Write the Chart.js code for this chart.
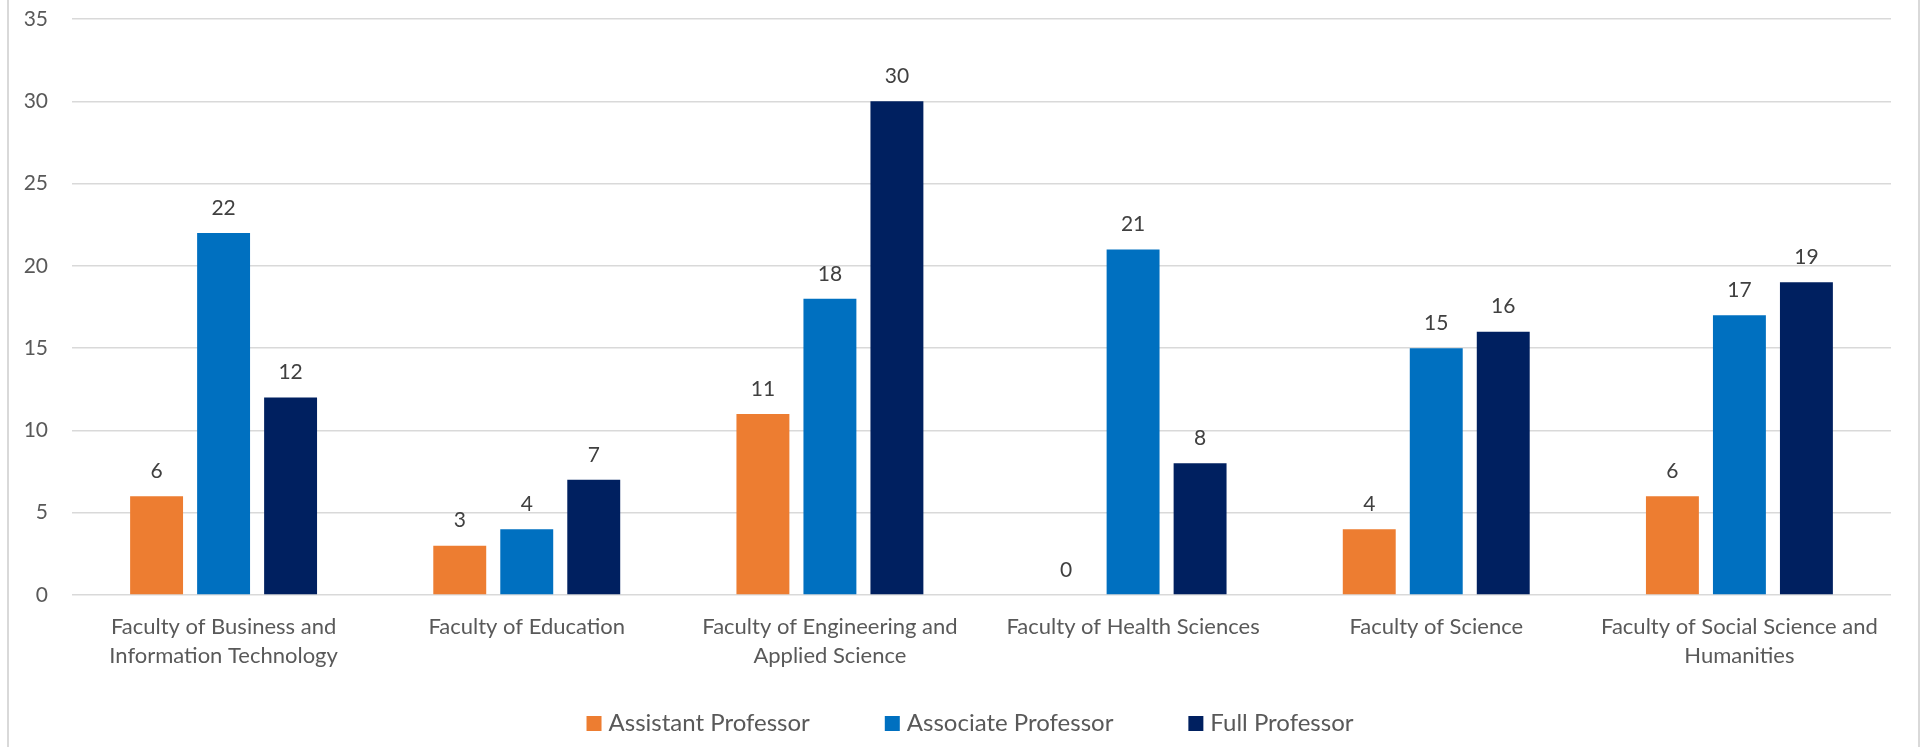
<!DOCTYPE html>
<html>
<head>
<meta charset="utf-8">
<title>Faculty by academic rank</title>
<script src="https://cdn.jsdelivr.net/npm/chart.js@4.4.1/dist/chart.umd.min.js"></script>
<style>
  body { margin: 0; background: #fff; }
  #chartBox { width: 1923px; height: 747px; }
</style>
</head>
<body>
<div id="chartBox"><canvas id="rankChart"></canvas></div>
<script>
// Categories (multi-line labels like the original)
const faculties = [
    ['Faculty of Business and', 'Information Technology'],
    'Faculty of Education',
    ['Faculty of Engineering and', 'Applied Science'],
    'Faculty of Health Sciences',
    'Faculty of Science',
    ['Faculty of Social Science and', 'Humanities']
];

// Series values
const assistantProfessor = [6, 3, 11, 0, 4, 6];
const associateProfessor = [22, 4, 18, 21, 15, 17];
const fullProfessor = [12, 7, 30, 8, 16, 19];

// Y axis range
const yMax = 35;
const yStep = 5;

const textColor = '#595959';
const gridColor = '#d9d9d9';

// Value labels on top of each bar
const barValues = {
    id: 'barValues',
    afterDatasetsDraw(chart) {
        const ctx = chart.ctx;
        ctx.save();
        ctx.font = '21px Lato';
        ctx.fillStyle = '#404040';
        ctx.textAlign = 'center';
        ctx.textBaseline = 'middle';
        chart.data.datasets.forEach((ds, i) => {
            chart.getDatasetMeta(i).data.forEach((bar, j) => {
                ctx.fillText(ds.data[j], bar.x, bar.y - 25);
            });
        });
        ctx.restore();
    }
};

// Light frame on left and right edges
const frame = {
    id: 'frame',
    beforeDraw(chart) {
        const ctx = chart.ctx;
        ctx.save();
        ctx.fillStyle = gridColor;
        ctx.fillRect(7, 0, 2, chart.height);
        ctx.fillRect(1918, 0, 2, chart.height);
        ctx.restore();
    }
};

// Legend at the bottom: square swatch, small gap, wide spacing between items
const bottomLegend = {
    id: 'bottomLegend',
    afterDraw(chart) {
        const ctx = chart.ctx;
        const box = 15, gap = 7, spacing = 75, y = 723.5;
        ctx.save();
        ctx.font = '24px Lato';
        ctx.textBaseline = 'middle';
        const items = chart.data.datasets.map(ds => ({
            ds, w: ctx.measureText(ds.label).width
        }));
        const total = items.reduce((s, it) => s + box + gap + it.w, 0) + spacing * (items.length - 1);
        let x = 970 - total / 2;
        items.forEach(it => {
            ctx.fillStyle = it.ds.backgroundColor;
            ctx.fillRect(x, y - box / 2, box, box);
            x += box + gap;
            ctx.fillStyle = textColor;
            ctx.fillText(it.ds.label, x, y);
            x += it.w + spacing;
        });
        ctx.restore();
    }
};

const ctx = document.getElementById('rankChart').getContext('2d');
new Chart(ctx, {
    type: 'bar',
    data: {
        labels: faculties,
        datasets: [
            { label: 'Assistant Professor', data: assistantProfessor, backgroundColor: '#ED7D31' },
            { label: 'Associate Professor', data: associateProfessor, backgroundColor: '#0070C0' },
            { label: 'Full Professor', data: fullProfessor, backgroundColor: '#002060' }
        ]
    },
    options: {
        responsive: true,
        maintainAspectRatio: false,
        animation: false,
        categoryPercentage: 0.663,
        barPercentage: 0.79,
        layout: {
            padding: { left: 0, right: 32, top: 19, bottom: 44 }
        },
        plugins: {
            legend: { display: false },
            tooltip: { enabled: false }
        },
        scales: {
            x: {
                grid: { display: false, drawTicks: false },
                border: { display: false },
                ticks: {
                    color: textColor,
                    font: { family: 'Lato', size: 22, lineHeight: 1.3 },
                    padding: 18,
                    maxRotation: 0,
                    autoSkip: false
                },
                afterFit(scale) { scale.height = 108; }
            },
            y: {
                min: 0,
                max: yMax,
                grid: {
                    color: gridColor,
                    lineWidth: 1.5,
                    drawTicks: true,
                    tickLength: 24,
                    tickColor: 'rgba(0,0,0,0)'
                },
                border: { display: false },
                ticks: {
                    stepSize: yStep,
                    color: textColor,
                    font: { family: 'Lato', size: 21 },
                    padding: 0
                },
                afterFit(scale) { scale.width = 72; }
            }
        }
    },
    plugins: [frame, barValues, bottomLegend]
});
</script>
</body>
</html>
